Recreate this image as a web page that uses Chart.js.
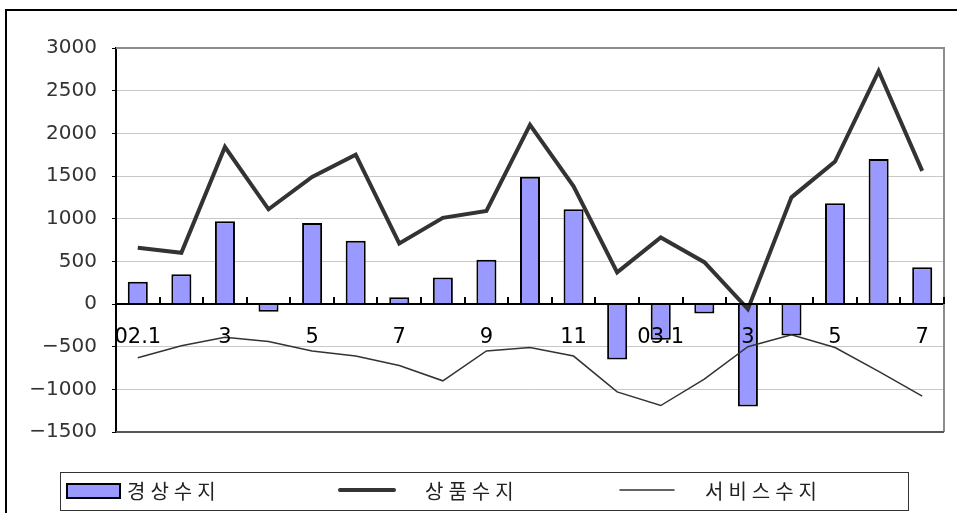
<!DOCTYPE html>
<html>
<head>
<meta charset="utf-8">
<script src="https://cdn.jsdelivr.net/npm/chart.js@4"></script>
<style>
  body { margin: 0; background: #fff; overflow: hidden; }
  #wrap { position: relative; width: 957px; height: 513px; }
  #frame { position: absolute; left: 5px; top: 9px; width: 1000px; height: 600px;
           border-left: 2px solid #000; border-top: 2px solid #000; }
  canvas { position: absolute; left: 0; top: 0; }
</style>
</head>
<body>
<div id="wrap">
  <div id="frame"></div>
  <canvas id="balance" width="957" height="513"></canvas>
</div>
<script>
// 월별 국제수지 (02.1 ~ 03.7)
const months = ['02.1','2','3','4','5','6','7','8','9','10','11','12','03.1','2','3','4','5','6','7'];
const xTickLabels = ['02.1','','3','','5','','7','','9','','11','','03.1','','3','','5','','7'];
const current = [260, 350, 970, -90, 950, 740, 80, 310, 520, 1490, 1110, -650, -420, -110, -1200, -370, 1180, 1700, 430];
const goods = [660, 600, 1840, 1110, 1490, 1750, 710, 1010, 1090, 2100, 1380, 370, 780, 490, -60, 1250, 1670, 2730, 1560];
const services = [-630, -490, -390, -440, -550, -610, -720, -900, -550, -510, -610, -1030, -1190, -880, -500, -360, -510, -790, -1080];

const FONT = 'DejaVu Sans';
const KFONT = '"Noto Sans CJK KR", "DejaVu Sans"';

// plot frame, inner tick marks on the zero line, and the boxed legend
const decorations = {
  id: 'decorations',
  afterDraw(chart) {
    const { ctx, chartArea: a, scales: { x, y } } = chart;
    ctx.save();
    ctx.lineCap = 'butt';
    ctx.strokeStyle = '#8c8c8c';
    ctx.lineWidth = 2;
    ctx.beginPath();
    ctx.moveTo(a.left, a.top);
    ctx.lineTo(a.right, a.top);
    ctx.lineTo(a.right, a.bottom);
    ctx.stroke();
    ctx.strokeStyle = '#555';
    ctx.beginPath();
    ctx.moveTo(a.left, a.bottom);
    ctx.lineTo(a.right, a.bottom);
    ctx.stroke();

    // category boundary ticks pointing up from the zero line
    const zeroY = y.getPixelForValue(0);
    const step = x.getPixelForValue(1) - x.getPixelForValue(0);
    const start = x.getPixelForValue(0) - step / 2;
    ctx.strokeStyle = '#000';
    ctx.lineWidth = 2;
    for (let i = 1; i <= months.length; i++) {
      const px = Math.round(start + i * step);
      ctx.beginPath();
      ctx.moveTo(px, zeroY - 7);
      ctx.lineTo(px, zeroY);
      ctx.stroke();
    }

    // legend
    const lg = { left: 60, top: 472, right: 908, bottom: 510 };
    ctx.strokeStyle = '#333';
    ctx.lineWidth = 1;
    ctx.strokeRect(lg.left + 0.5, lg.top + 0.5, lg.right - lg.left, lg.bottom - lg.top);
    const midY = 491;
    const items = [
      { swatch: 67, text: 127 },
      { swatch: 340, text: 425 },
      { swatch: 620, text: 705 }
    ];
    const ds = chart.data.datasets;
    ctx.font = '20px ' + KFONT;
    ctx.textBaseline = 'middle';
    ctx.textAlign = 'left';
    ctx.letterSpacing = '5px';
    items.forEach((it, i) => {
      const d = ds[i];
      if (d.type === 'bar') {
        ctx.fillStyle = d.backgroundColor;
        ctx.fillRect(it.swatch, midY - 7, 53, 14);
        ctx.strokeStyle = d.borderColor;
        ctx.lineWidth = 2;
        ctx.strokeRect(it.swatch, midY - 7, 53, 14);
      } else {
        ctx.strokeStyle = d.borderColor;
        ctx.lineWidth = d.borderWidth;
        ctx.lineCap = 'round';
        ctx.beginPath();
        ctx.moveTo(it.swatch, midY - 1);
        ctx.lineTo(it.swatch + 54, midY - 1);
        ctx.stroke();
      }
      ctx.fillStyle = '#222';
      ctx.fillText(d.label, it.text, midY);
    });
    ctx.restore();
  }
};

new Chart(document.getElementById('balance'), {
  data: {
    labels: months,
    datasets: [
      {
        type: 'bar',
        label: '경상수지',
        data: current,
        backgroundColor: '#9999ff',
        borderColor: '#000',
        borderWidth: 2,
        categoryPercentage: 1,
        barPercentage: 0.46,
        order: 3
      },
      {
        type: 'line',
        label: '상품수지',
        data: goods,
        borderColor: '#333',
        borderWidth: 4,
        pointRadius: 0,
        tension: 0,
        order: 2
      },
      {
        type: 'line',
        label: '서비스수지',
        data: services,
        borderColor: '#333',
        borderWidth: 1.5,
        pointRadius: 0,
        tension: 0,
        order: 1
      }
    ]
  },
  options: {
    responsive: false,
    animation: false,
    layout: { padding: { left: 0, right: 13, top: 48, bottom: 81 } },
    plugins: { legend: { display: false }, tooltip: { enabled: false } },
    scales: {
      x: {
        type: 'category',
        offset: true,
        position: { y: 0 },
        grid: { display: true, drawOnChartArea: false, drawTicks: false },
        border: { display: true, color: '#000', width: 2, z: 1 },
        ticks: {
          z: 1,
          autoSkip: false,
          maxRotation: 0,
          padding: 21,
          color: '#000',
          font: { family: FONT, size: 21 },
          callback: (v, i) => xTickLabels[i]
        }
      },
      y: {
        min: -1500,
        max: 3000,
        afterFit: s => { s.width = 116; },
        grid: { color: '#c8c8c8', lineWidth: 1, tickLength: 4, tickColor: '#000' },
        border: { display: true, color: '#000', width: 2 },
        ticks: {
          stepSize: 500,
          padding: 15,
          color: '#333',
          font: { family: FONT, size: 20 },
          callback: v => (v < 0 ? '\u2212' + Math.abs(v) : String(v))
        }
      }
    }
  },
  plugins: [decorations]
});
</script>
</body>
</html>
